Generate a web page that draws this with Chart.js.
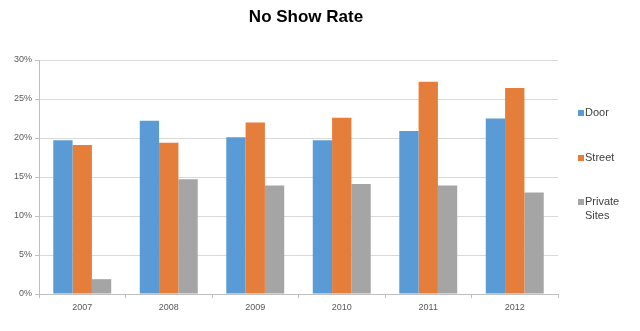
<!DOCTYPE html>
<html>
<head>
<meta charset="utf-8">
<script src="https://cdn.jsdelivr.net/npm/chart.js@4"></script>
<style>
  html, body { margin: 0; padding: 0; background: #fff; }
  #wrap { width: 640px; height: 331px; }
</style>
</head>
<body>
<div id="wrap"><canvas id="rateChart"></canvas></div>
<script>
var years = ['2007', '2008', '2009', '2010', '2011', '2012'];
var doorRate = [19.7, 22.2, 20.1, 19.7, 20.9, 22.5];
var streetRate = [19.1, 19.4, 22.0, 22.6, 27.2, 26.4];
var privateRate = [1.9, 14.7, 13.9, 14.1, 13.9, 13.0];
var seriesNames = ['Door', 'Street', ['Private', 'Sites']];
var chartTitle = 'No Show Rate';

var colors = ['#5b9bd5', '#e57d3b', '#a5a5a5'];

// title + legend drawn by hand so they sit where Excel put them
var sideStuff = {
  id: 'sideStuff',
  afterDraw: function(chart) {
    var ctx = chart.ctx;
    ctx.save();
    ctx.fillStyle = '#000';
    ctx.font = 'bold 17px "Liberation Sans", Arial, sans-serif';
    ctx.textAlign = 'center';
    ctx.textBaseline = 'middle';
    ctx.fillText(chartTitle, 306, 17);

    ctx.font = '11px "Liberation Sans", Arial, sans-serif';
    ctx.textAlign = 'left';
    var tops = [113, 158, 202];
    chart.data.datasets.forEach(function(ds, i) {
      var y = tops[i];
      ctx.fillStyle = ds.backgroundColor;
      ctx.fillRect(578, y - 3, 6, 6);
      ctx.fillStyle = '#404040';
      var lines = Array.isArray(seriesNames[i]) ? seriesNames[i] : [seriesNames[i]];
      lines.forEach(function(t, k) {
        ctx.fillText(t, 585, y + k * 14);
      });
    });
    ctx.restore();
  }
};

var ctx = document.getElementById('rateChart').getContext('2d');
var myChart = new Chart(ctx, {
  type: 'bar',
  data: {
    labels: years,
    datasets: [
      { label: 'Door', data: doorRate, backgroundColor: colors[0] },
      { label: 'Street', data: streetRate, backgroundColor: colors[1] },
      { label: 'Private Sites', data: privateRate, backgroundColor: colors[2] }
    ]
  },
  options: {
    responsive: true,
    maintainAspectRatio: false,
    animation: false,
    layout: { padding: { top: 60, right: 82, bottom: 0, left: 0 } },
    datasets: { bar: { categoryPercentage: 0.67, barPercentage: 1.0 } },
    plugins: {
      legend: { display: false },
      title: { display: false },
      tooltip: { enabled: false }
    },
    scales: {
      x: {
        afterFit: function(s) { s.height = 37; },
        grid: {
          offset: true,
          drawOnChartArea: false,
          drawTicks: true,
          tickLength: 4,
          color: '#bfbfbf'
        },
        border: { color: '#bfbfbf' },
        ticks: {
          color: '#595959',
          padding: 4,
          font: { family: '"Liberation Sans", Arial, sans-serif', size: 9 }
        }
      },
      y: {
        min: 0,
        max: 30,
        afterFit: function(s) { s.width = 39; },
        grid: { color: '#d9d9d9', tickLength: 4, tickColor: '#bfbfbf' },
        border: { color: '#bfbfbf' },
        ticks: {
          stepSize: 5,
          color: '#595959',
          padding: 3,
          font: { family: '"Liberation Sans", Arial, sans-serif', size: 9 },
          callback: function(v) { return v + '%'; }
        }
      }
    }
  },
  plugins: [sideStuff]
});
</script>
</body>
</html>
